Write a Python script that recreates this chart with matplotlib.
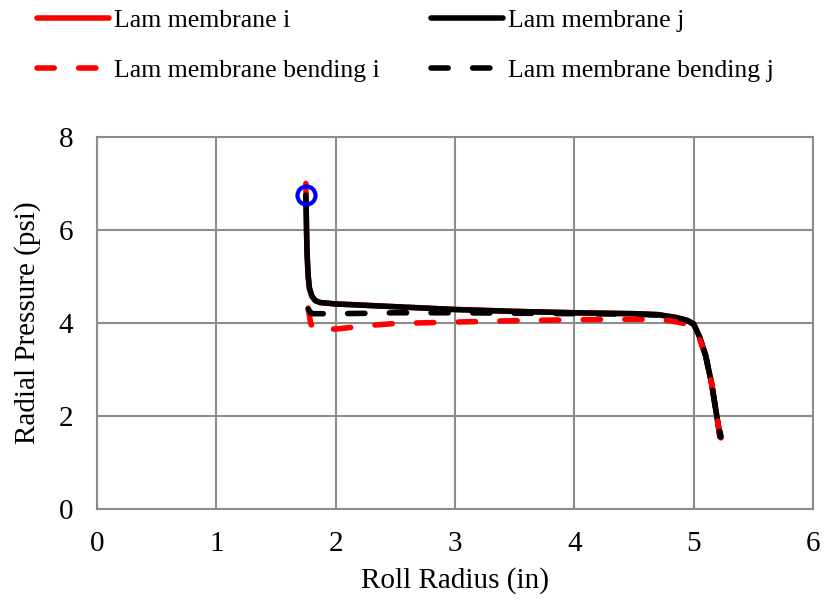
import matplotlib.pyplot as plt

plt.rcParams['font.family'] = ['Liberation Serif', 'DejaVu Serif']

# membrane i / j (solid)
mem_x = [1.75, 1.755, 1.76, 1.77, 1.78, 1.80, 1.83, 1.87, 2.0, 2.5, 3.0, 3.5, 4.0, 4.5, 4.7,
         4.85, 4.95, 5.0, 5.05, 5.1, 5.15, 5.2, 5.22]
mem_i = [7.0, 6.2, 5.5, 5.0, 4.75, 4.58, 4.48, 4.44, 4.41, 4.35, 4.29, 4.25, 4.22, 4.2, 4.18,
         4.12, 4.05, 3.98, 3.7, 3.3, 2.7, 1.9, 1.55]
mem_j = [6.75, 6.1, 5.5, 5.0, 4.75, 4.58, 4.48, 4.44, 4.41, 4.35, 4.29, 4.25, 4.22, 4.2, 4.18,
         4.12, 4.05, 3.98, 3.7, 3.3, 2.7, 1.9, 1.55]

# membrane + bending i / j (dashed)
bend_x = [1.77, 1.79, 1.81, 2.0, 2.3, 2.5, 3.0, 3.5, 4.0, 4.5, 4.7, 4.8, 4.9, 4.95, 5.0,
          5.05, 5.1, 5.15, 5.2, 5.23]
bend_i = [4.32, 4.0, 3.88, 3.87, 3.95, 3.99, 4.02, 4.05, 4.07, 4.08, 4.07, 4.05, 4.0, 3.97, 3.88,
          3.65, 3.3, 2.7, 1.9, 1.5]
bend_j = [4.3, 4.22, 4.2, 4.2, 4.21, 4.22, 4.22, 4.21, 4.2, 4.19, 4.17, 4.14, 4.09, 4.05, 3.97,
          3.7, 3.3, 2.7, 1.9, 1.55]

mark_x, mark_y = [1.75], [6.75]

fig = plt.figure(figsize=(8.25, 6), dpi=100)
ax = fig.add_axes([97/825, 1-509/600, (813-97)/825, (509-137)/600])

lw = 4
dash = (3.1, 4.4)
l1, = ax.plot(mem_x, mem_i, color='red', lw=lw, solid_capstyle='round', label='Lam membrane i')
l2, = ax.plot(mem_x, mem_j, color='black', lw=lw, solid_capstyle='round', label='Lam membrane j')
l3, = ax.plot(bend_x, bend_i, color='red', lw=lw, dashes=dash, dash_capstyle='round',
              label='Lam membrane bending i')
l4, = ax.plot(bend_x, bend_j, color='black', lw=lw, dashes=dash, dash_capstyle='round',
              label='Lam membrane bending j')
ax.plot(mark_x, mark_y, 'o', ms=13, mfc='none', mec='#0000ff', mew=3)

ax.set_xlim(0, 6)
ax.set_ylim(0, 8)
ax.set_xticks(range(0, 7))
ax.set_yticks(range(0, 9, 2))
ax.grid(True, color='#8c8c8c', lw=1.5)
ax.set_axisbelow(True)
for s in ax.spines.values():
    s.set_color('#8c8c8c')
    s.set_linewidth(1.5)
ax.tick_params(length=0, labelsize=21)
ax.tick_params(axis='x', pad=16)
ax.tick_params(axis='y', pad=17)
ax.set_xlabel('Roll Radius (in)', fontsize=21)
ax.set_ylabel('Radial Pressure (psi)', fontsize=21)
ax.xaxis.set_label_coords(0.5, -0.155)
ax.yaxis.set_label_coords(-0.078, 0.5)

# row-major order: membrane i, membrane j / bending i, bending j
fig.legend([l1, l3, l2, l4], [l1.get_label(), l3.get_label(), l2.get_label(), l4.get_label()],
           loc='upper left', bbox_to_anchor=(37/825, 1-9/600), ncol=2, frameon=False,
           fontsize=18.5, handlelength=2.8, handletextpad=0.2, columnspacing=2.0,
           labelspacing=1.06, borderpad=0, borderaxespad=0)

fig.savefig('out.png', dpi=100)
